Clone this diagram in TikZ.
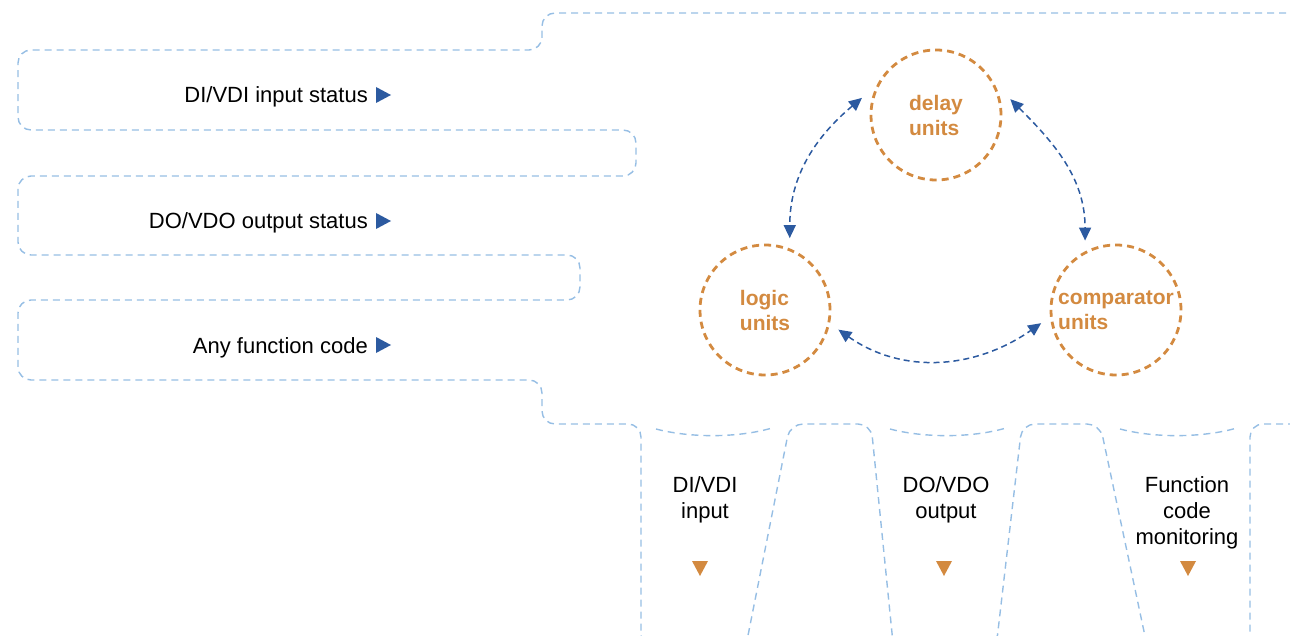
\documentclass[tikz,border=0pt]{standalone}
\usepackage{fontspec}
\setmainfont{Liberation Sans}
\usetikzlibrary{arrows.meta}
\definecolor{lblue}{RGB}{150,190,228}
\definecolor{dblue}{RGB}{44,90,160}
\definecolor{orng}{RGB}{211,138,64}
\begin{document}
\begin{tikzpicture}[x=1pt,y=-1pt,
 outline/.style={draw=lblue,line width=1.4pt,dash pattern=on 7pt off 5pt,rounded corners=13pt},
 sag/.style={draw=lblue,line width=1.4pt,dash pattern=on 7pt off 5pt},
 unit/.style={circle,draw=orng,line width=2.8pt,dash pattern=on 7pt off 5pt,minimum size=130pt,inner sep=0pt,outer sep=11pt,text=orng,font=\fontsize{21}{25}\selectfont\bfseries,align=left},
 link/.style={draw=dblue,line width=1.5pt,dash pattern=on 6pt off 4pt,{Triangle[length=13pt,width=12pt]}-{Triangle[length=13pt,width=12pt]}},
 lefttxt/.style={anchor=base east,inner sep=0pt,font=\fontsize{22}{26}\selectfont},
 bottxt/.style={anchor=north,inner sep=0pt,align=center,font=\fontsize{22}{26}\selectfont},
]
\useasboundingbox (0,0) rectangle (1290,636);
\begin{scope}
\clip (0,0) rectangle (1290,636);
\draw[outline] (1310,13) -- (542,13) -- (542,50) -- (18,50) -- (18,130) -- (636,130) -- (636,176) -- (18,176) -- (18,255) -- (580,255) -- (580,300) -- (18,300) -- (18,380) -- (542,380) -- (542,424) -- (641,424) -- (641,648) -- (745.5,648) -- (790,424) -- (871,424) -- (893.5,648) -- (996,648) -- (1022,424) -- (1100,424) -- (1147.5,648) -- (1250,648) -- (1250,424) -- (1310,424);
\draw[sag] (656,429) .. controls (690,438) and (738,438) .. (772,428);
\draw[sag] (890,429) .. controls (924,438) and (972,438) .. (1006,428);
\draw[sag] (1120,429) .. controls (1154,438) and (1202,438) .. (1237,428);
\end{scope}

\node[unit] (delay) at (936,115) {delay\\units};
\node[unit] (logic) at (765,310) {logic\\units};
\node[unit] (comp) at (1116,310) {comparator\\units};

\draw[link] (delay.167) to[out=220,in=90] (logic.71);
\draw[link] (delay.12) to[out=-45,in=90] (comp.114);
\draw[link] (logic.-15) to[out=-35,in=215] (comp.190);

\node[lefttxt] (t1) at (368,103) {DI/VDI input status};
\node[lefttxt] (t2) at (368,229) {DO/VDO output status};
\node[lefttxt] (t3) at (368,353) {Any function code};
\fill[dblue] (376,87) -- (391,95) -- (376,103) -- cycle;
\fill[dblue] (376,213) -- (391,221) -- (376,229) -- cycle;
\fill[dblue] (376,337) -- (391,345) -- (376,353) -- cycle;

\node[bottxt] (b1) at (705,476) {DI/VDI\\input};
\node[bottxt] (b2) at (946,476) {DO/VDO\\output};
\node[bottxt] (b3) at (1187,476) {Function\\code\\monitoring};
\fill[orng] (692,561) -- (708,561) -- (700,576) -- cycle;
\fill[orng] (936,561) -- (952,561) -- (944,576) -- cycle;
\fill[orng] (1180,561) -- (1196,561) -- (1188,576) -- cycle;
\end{tikzpicture}
\end{document}
